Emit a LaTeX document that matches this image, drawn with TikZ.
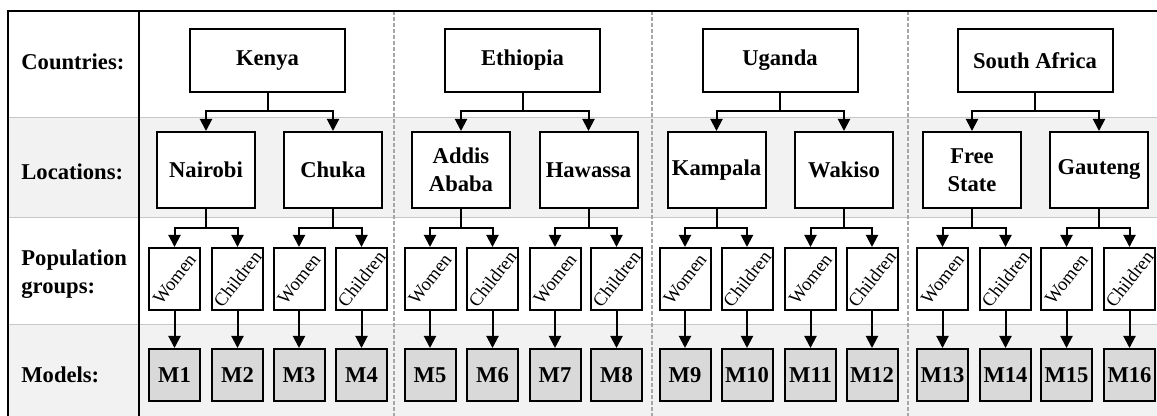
\documentclass[tikz,border=0pt]{standalone}
\usepackage{fontspec}
\setmainfont{Liberation Serif}
\usetikzlibrary{positioning,arrows.meta}

\begin{document}
\begin{tikzpicture}[x=0.5pt,y=-0.5pt,
	font=\fontsize{11.3}{14}\selectfont\bfseries,
	box/.style={draw,line width=1pt,fill=white,inner sep=1pt,align=center},
	country/.style={box,minimum width=77.5pt,minimum height=31.5pt},
	location/.style={box,minimum width=49pt,minimum height=38pt},
	group/.style={box,minimum width=25.5pt,minimum height=31pt,
		label={[rotate=52,inner sep=0pt,font=\fontsize{9.3}{11}\selectfont]center:#1}},
	model/.style={box,fill=black!15,minimum width=25.5pt,minimum height=26pt},
	heading/.style={anchor=west,align=left,inner sep=0pt},
	arr/.style={line width=1pt,-{Triangle[width=6pt,length=6pt]}},
	sep/.style={black!22,line width=0.5pt},
	band/.style={black!35,line width=0.7pt,dash pattern=on 2pt off 1pt}]
	\useasboundingbox (0,0) rectangle (1157,416);
	\fill[white] (0,0) rectangle (1157,416);
	\fill[black!5] (8,118) rectangle (1157,218);
	\fill[black!5] (8,325) rectangle (1157,416);
	\foreach \y in {118,218,325}
		\draw[sep] (8,\y) -- (1157,\y);
	\foreach \x in {394,652,908}
		\draw[band] (\x,11) -- (\x,416);
	\draw[line width=1pt] (8,416) -- (8,11) -- (1157,11);
	\draw[line width=1pt] (139,11) -- (139,416);

	\node[heading] (h1) at (21,62) {Countries:};
	\node[heading] (h2) at (21,172) {Locations:};
	\node[heading] (h3) at (21,274) {Population\\groups:};
	\node[heading] (h4) at (21,375) {Models:};

	\foreach \name/\x [count=\i] in {Kenya/267.5,Ethiopia/522.5,Uganda/780,South Africa/1035}
		\node[country] (c\i) at (\x,60.5) {\name};
	\foreach \name/\x [count=\i] in {Nairobi/206,Chuka/333,Addis\\Ababa/461,Hawassa/588.5,Kampala/716.5,Wakiso/844,Free\\State/972,Gauteng/1099}
		\node[location] (l\i) at (\x,170) {\name};
	\foreach \x/\g [count=\i] in {174.5/Women,237.5/Children,299/Women,361.5/Children,430/Women,492.5/Children,555/Women,616.5/Children,685/Women,747/Children,810.5/Women,872/Children,942.5/Women,1005.5/Children,1066.5/Women,1129.5/Children} {
		\node[group=\g] (p\i) at (\x,279) {};
		\node[model] (m\i) at (\x,375) {M\i};
		\draw[arr] (p\i) -- (m\i);
	}

	\foreach \i in {1,...,4} {
		\pgfmathtruncatemacro\ka{2*\i-1}
		\pgfmathtruncatemacro\kb{2*\i}
		\draw[arr] (c\i.south) -- ++(0,18) -| (l\ka.north);
		\draw[arr] (c\i.south) -- ++(0,18) -| (l\kb.north);
	}
	\foreach \i in {1,...,8} {
		\pgfmathtruncatemacro\ka{2*\i-1}
		\pgfmathtruncatemacro\kb{2*\i}
		\draw[arr] (l\i.south) -- ++(0,19) -| (p\ka.north);
		\draw[arr] (l\i.south) -- ++(0,19) -| (p\kb.north);
	}
\end{tikzpicture}
\end{document}
